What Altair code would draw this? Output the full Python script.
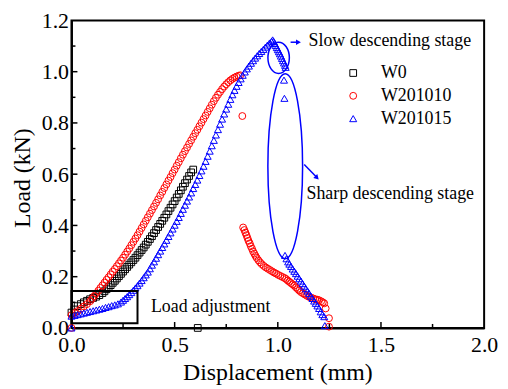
import altair as alt
import pandas as pd

FONT = "Liberation Serif"
SERIES = ["W0", "W201010", "W201015"]
COLORS = ["#000000", "#ff0000", "#0000ff"]
SHAPES = ["square", "circle", "triangle-up"]

# ---------------- data (displacement mm, load kN) ----------------
w0_points = [
    (0.000, 0.060), (0.015, 0.072), (0.030, 0.085), (0.045, 0.093), (0.060, 0.100),
    (0.075, 0.106), (0.090, 0.112), (0.105, 0.117), (0.120, 0.122), (0.135, 0.128),
    (0.150, 0.136), (0.160, 0.143), (0.170, 0.151), (0.180, 0.159), (0.190, 0.167),
    (0.200, 0.176), (0.210, 0.184), (0.220, 0.193), (0.230, 0.202), (0.240, 0.211),
    (0.250, 0.220), (0.260, 0.229), (0.270, 0.238), (0.280, 0.247), (0.290, 0.256),
    (0.300, 0.265), (0.310, 0.274), (0.320, 0.284), (0.330, 0.294), (0.340, 0.304),
    (0.350, 0.314), (0.360, 0.325), (0.370, 0.336), (0.380, 0.347), (0.390, 0.358),
    (0.400, 0.370), (0.410, 0.382), (0.420, 0.394), (0.430, 0.406), (0.440, 0.418),
    (0.450, 0.430), (0.460, 0.443), (0.470, 0.456), (0.480, 0.469), (0.490, 0.482),
    (0.500, 0.495), (0.510, 0.509), (0.520, 0.523), (0.530, 0.537), (0.540, 0.551),
    (0.550, 0.565), (0.560, 0.579), (0.570, 0.593), (0.580, 0.607), (0.590, 0.618),
    (0.612, 0.000),
]

w201010_points = [
    (0.000, 0.000),
    (0.000, 0.050), (0.015, 0.058), (0.030, 0.066), (0.045, 0.075), (0.060, 0.084),
    (0.075, 0.093), (0.090, 0.104), (0.100, 0.114), (0.110, 0.124), (0.120, 0.135),
    (0.130, 0.145), (0.140, 0.156), (0.150, 0.166), (0.160, 0.177), (0.170, 0.188),
    (0.180, 0.198), (0.190, 0.209), (0.200, 0.220), (0.210, 0.230), (0.220, 0.241),
    (0.230, 0.252), (0.240, 0.263), (0.250, 0.274), (0.260, 0.286), (0.270, 0.298),
    (0.280, 0.310), (0.290, 0.323), (0.300, 0.336), (0.310, 0.349), (0.320, 0.362),
    (0.330, 0.376), (0.340, 0.390), (0.350, 0.404), (0.360, 0.418), (0.370, 0.432),
    (0.380, 0.446), (0.390, 0.460), (0.400, 0.474), (0.410, 0.488), (0.420, 0.502),
    (0.430, 0.517), (0.440, 0.531), (0.450, 0.546), (0.460, 0.560), (0.470, 0.575),
    (0.480, 0.589), (0.490, 0.604), (0.500, 0.618), (0.510, 0.633), (0.520, 0.647),
    (0.530, 0.662), (0.540, 0.676), (0.550, 0.690), (0.560, 0.704), (0.570, 0.718),
    (0.580, 0.732), (0.590, 0.746), (0.600, 0.760), (0.610, 0.773), (0.620, 0.787),
    (0.630, 0.801), (0.640, 0.815), (0.650, 0.829), (0.660, 0.843), (0.670, 0.857),
    (0.680, 0.871), (0.690, 0.885), (0.700, 0.898), (0.710, 0.910), (0.720, 0.921),
    (0.730, 0.932), (0.740, 0.942), (0.750, 0.951), (0.760, 0.959), (0.770, 0.966),
    (0.780, 0.972), (0.790, 0.977), (0.800, 0.981), (0.810, 0.984), (0.818, 0.986),
    (0.828, 0.827),
    (0.832, 0.392), (0.838, 0.382), (0.843, 0.372), (0.848, 0.362), (0.853, 0.351),
    (0.858, 0.340), (0.864, 0.330), (0.869, 0.319), (0.875, 0.309), (0.880, 0.299),
    (0.886, 0.290), (0.892, 0.281), (0.898, 0.273), (0.906, 0.264), (0.914, 0.256),
    (0.922, 0.249), (0.932, 0.242), (0.942, 0.236), (0.952, 0.231), (0.962, 0.226),
    (0.972, 0.221), (0.982, 0.216), (0.992, 0.212), (1.002, 0.207), (1.012, 0.203),
    (1.022, 0.199), (1.032, 0.195), (1.040, 0.191), (1.048, 0.185), (1.056, 0.180),
    (1.064, 0.175), (1.072, 0.170), (1.080, 0.165), (1.088, 0.158), (1.096, 0.152),
    (1.104, 0.146), (1.112, 0.140), (1.122, 0.135), (1.132, 0.130), (1.142, 0.125),
    (1.152, 0.121), (1.162, 0.118), (1.172, 0.115), (1.182, 0.112), (1.192, 0.110),
    (1.200, 0.108), (1.210, 0.104), (1.218, 0.100), (1.225, 0.096), (1.232, 0.076),
    (1.248, 0.038), (1.248, 0.005),
]

w201015_points = [
    (0.000, 0.000),
    (0.000, 0.046), (0.015, 0.049), (0.030, 0.052), (0.045, 0.055), (0.060, 0.058),
    (0.075, 0.061), (0.090, 0.064), (0.105, 0.067), (0.120, 0.070), (0.135, 0.073),
    (0.150, 0.076), (0.165, 0.080), (0.180, 0.083), (0.195, 0.087), (0.210, 0.090),
    (0.225, 0.094), (0.240, 0.101), (0.250, 0.108), (0.260, 0.115), (0.270, 0.122),
    (0.280, 0.130), (0.290, 0.138), (0.300, 0.147), (0.310, 0.156), (0.320, 0.165),
    (0.330, 0.175), (0.340, 0.185), (0.350, 0.196), (0.360, 0.207), (0.370, 0.218),
    (0.380, 0.231), (0.390, 0.245), (0.400, 0.258), (0.410, 0.272), (0.420, 0.286),
    (0.430, 0.300), (0.440, 0.314), (0.450, 0.328), (0.460, 0.342), (0.470, 0.357),
    (0.480, 0.371), (0.490, 0.386), (0.500, 0.401), (0.510, 0.416), (0.520, 0.431),
    (0.530, 0.447), (0.540, 0.463), (0.550, 0.479), (0.560, 0.495), (0.570, 0.511),
    (0.580, 0.527), (0.590, 0.544), (0.600, 0.560), (0.610, 0.577), (0.620, 0.595),
    (0.630, 0.613), (0.640, 0.631), (0.650, 0.650), (0.660, 0.670), (0.670, 0.690),
    (0.680, 0.711), (0.690, 0.732), (0.700, 0.753), (0.710, 0.774), (0.720, 0.795),
    (0.730, 0.815), (0.740, 0.835), (0.750, 0.854), (0.760, 0.873), (0.770, 0.892),
    (0.780, 0.910), (0.790, 0.927), (0.800, 0.943), (0.810, 0.958), (0.820, 0.972),
    (0.830, 0.986), (0.840, 0.999), (0.850, 1.011), (0.860, 1.022), (0.870, 1.033),
    (0.880, 1.043), (0.890, 1.053), (0.900, 1.062), (0.910, 1.071), (0.920, 1.079),
    (0.930, 1.087), (0.940, 1.096), (0.950, 1.104), (0.960, 1.112), (0.970, 1.119),
    (0.975, 1.124),
    (0.980, 1.118), (0.985, 1.110), (0.990, 1.102), (0.995, 1.094), (1.000, 1.086),
    (1.005, 1.078), (1.010, 1.070), (1.015, 1.061), (1.020, 1.052), (1.025, 1.043),
    (1.030, 1.034), (1.035, 1.025), (1.038, 1.017),
    (1.030, 0.967), (1.032, 0.896),
    (1.035, 0.283), (1.042, 0.270), (1.050, 0.258), (1.056, 0.249), (1.064, 0.240),
    (1.072, 0.230), (1.080, 0.221), (1.088, 0.212), (1.096, 0.202), (1.104, 0.192),
    (1.112, 0.183), (1.120, 0.173), (1.128, 0.163), (1.136, 0.153), (1.144, 0.144),
    (1.152, 0.134), (1.160, 0.124), (1.168, 0.115), (1.176, 0.105), (1.184, 0.096),
    (1.192, 0.086), (1.200, 0.076), (1.208, 0.063), (1.216, 0.052), (1.225, 0.044),
    (1.228, 0.009),
]

x_major_ticks = [0.5, 1.0, 1.5]
x_minor_ticks = [0.25, 0.75, 1.25, 1.75]
y_major_ticks = [0.2, 0.4, 0.6, 0.8, 1.0]
y_minor_ticks = [0.1, 0.3, 0.5, 0.7, 0.9, 1.1]
x_labels = [0.0, 0.5, 1.0, 1.5, 2.0]
y_labels = [0.0, 0.2, 0.4, 0.6, 0.8, 1.0, 1.2]
x_title = "Displacement (mm)"
y_title = "Load (kN)"

# annotations (data coordinates)
adjust_box = {"x": [0.0], "x2": [0.32], "y": [0.018], "y2": [0.144]}
slow_ellipse = {"x": [1.004], "y": [1.054]}
sharp_ellipse = {"x": [1.036], "y": [0.631]}
slow_arrow = {"x": [1.062], "x2": [1.098], "y": [1.115], "y2": [1.115]}
sharp_arrow = {"x": [1.128], "x2": [1.186], "y": [0.638], "y2": [0.590]}
slow_head = {"x": [1.100], "y": [1.115]}
sharp_head = {"x": [1.190], "y": [0.586]}
notes = {
    "x": [1.149, 1.139, 0.385],
    "y": [1.101, 0.503, 0.062],
    "t": ["Slow descending stage", "Sharp descending stage", "Load adjustment"],
}

# ---------------- build chart ----------------
W, H = 416, 310
rows = []
for name, pts in zip(SERIES, [w0_points, w201010_points, w201015_points]):
    for x, y in pts:
        rows.append({"x": x, "y": y, "s": name})
df = pd.DataFrame(rows)

xs = alt.Scale(domain=[0, 2], nice=False, zero=False)
ys = alt.Scale(domain=[0, 1.2], nice=False, zero=False)

x_axis = alt.Axis(values=x_labels, format=".1f", title=None, labelPadding=7)
y_axis = alt.Axis(values=y_labels, format=".1f", title=None, labelPadding=3)


def X(field="x"):
    return alt.X(f"{field}:Q", scale=xs, axis=x_axis)


def Y(field="y"):
    return alt.Y(f"{field}:Q", scale=ys, axis=y_axis)


legend = alt.Legend(title=None, orient="none", legendX=275, legendY=44, labelFont=FONT,
                    labelFontSize=18, labelColor="black", symbolSize=38, symbolStrokeWidth=1,
                    labelOffset=19, rowPadding=5, padding=0)

points = alt.Chart(df).mark_point(filled=False, strokeWidth=1, opacity=1).encode(
    x=X(), y=Y(),
    color=alt.Color("s:N", scale=alt.Scale(domain=SERIES, range=COLORS), legend=legend),
    shape=alt.Shape("s:N", scale=alt.Scale(domain=SERIES, range=SHAPES), legend=legend),
    size=alt.Size("s:N", scale=alt.Scale(domain=SERIES, range=[46, 50, 66]), legend=None),
)


def xtick(vals, length):
    return alt.Chart(pd.DataFrame({"x": vals})).mark_rule(color="black", strokeWidth=1.5).encode(
        x=X(), y=alt.value(H), y2=alt.value(H - length))


def ytick(vals, length):
    return alt.Chart(pd.DataFrame({"y": vals})).mark_rule(color="black", strokeWidth=1.5).encode(
        y=Y(), x=alt.value(0), x2=alt.value(length))


box = alt.Chart(pd.DataFrame(adjust_box)).mark_rect(fillOpacity=0, stroke="black", strokeWidth=2).encode(
    x=X(), x2="x2:Q", y=Y(), y2="y2:Q")


def ellipse_path(a):
    k = 0.5523
    return (f"M {a} 0 C {a} {k} {a*k:.4f} 1 0 1 C {-a*k:.4f} 1 {-a} {k} {-a} 0 "
            f"C {-a} {-k} {-a*k:.4f} -1 0 -1 C {a*k:.4f} -1 {a} {-k} {a} 0 Z")


def ellipse(d, rx, ry):
    return alt.Chart(pd.DataFrame(d)).mark_point(
        shape=ellipse_path(round(rx / ry, 4)), size=(2 * ry) ** 2, filled=False,
        stroke="#0000ff", strokeWidth=1.5, opacity=1).encode(x=X(), y=Y())


def arrow_line(d):
    return alt.Chart(pd.DataFrame(d)).mark_rule(color="#0000ff", strokeWidth=1.5).encode(
        x=X(), x2="x2:Q", y=Y(), y2="y2:Q")


def arrow_head(d, angle):
    return alt.Chart(pd.DataFrame(d)).mark_point(
        shape="triangle-right", filled=True, size=32, color="#0000ff", opacity=1, angle=angle).encode(
        x=X(), y=Y())


texts = alt.Chart(pd.DataFrame(notes)).mark_text(
    align="left", baseline="alphabetic", font=FONT, fontSize=18, color="black").encode(
    x=X(), y=Y(), text="t:N")

# axis titles drawn as plain serif text so the weight stays regular
xtitle = alt.Chart(pd.DataFrame({"t": [x_title]})).mark_text(
    align="center", baseline="middle", font=FONT, fontSize=24, fontWeight="normal",
    color="black").encode(x=alt.value(W / 2), y=alt.value(H + 45), text="t:N")
ytitle = alt.Chart(pd.DataFrame({"t": [y_title]})).mark_text(
    align="center", baseline="middle", font=FONT, fontSize=24, fontWeight="normal",
    color="black", angle=270).encode(x=alt.value(-49), y=alt.value(H / 2 + 4), text="t:N")

chart = alt.layer(
    points,
    xtick(x_major_ticks, 6), xtick(x_minor_ticks, 4),
    ytick(y_major_ticks, 6), ytick(y_minor_ticks, 4),
    box,
    ellipse(slow_ellipse, 10.8, 15.8), ellipse(sharp_ellipse, 17.5, 93.2),
    arrow_line(slow_arrow), arrow_line(sharp_arrow),
    arrow_head(slow_head, 0), arrow_head(sharp_head, 45),
    texts, xtitle, ytitle,
).properties(
    width=W, height=H,
    padding={"left": 3, "top": 0, "right": 2, "bottom": 0},
    background="white",
).configure_view(
    stroke="black", strokeWidth=2
).configure_axis(
    grid=False, ticks=False, tickSize=0, domainColor="black", domainWidth=2,
    labelFont=FONT, labelFontSize=22, labelColor="black",
    labelFlush=False, labelOverlap=False,
)

chart.save("out.html", embed_options={"renderer": "svg", "actions": False})
